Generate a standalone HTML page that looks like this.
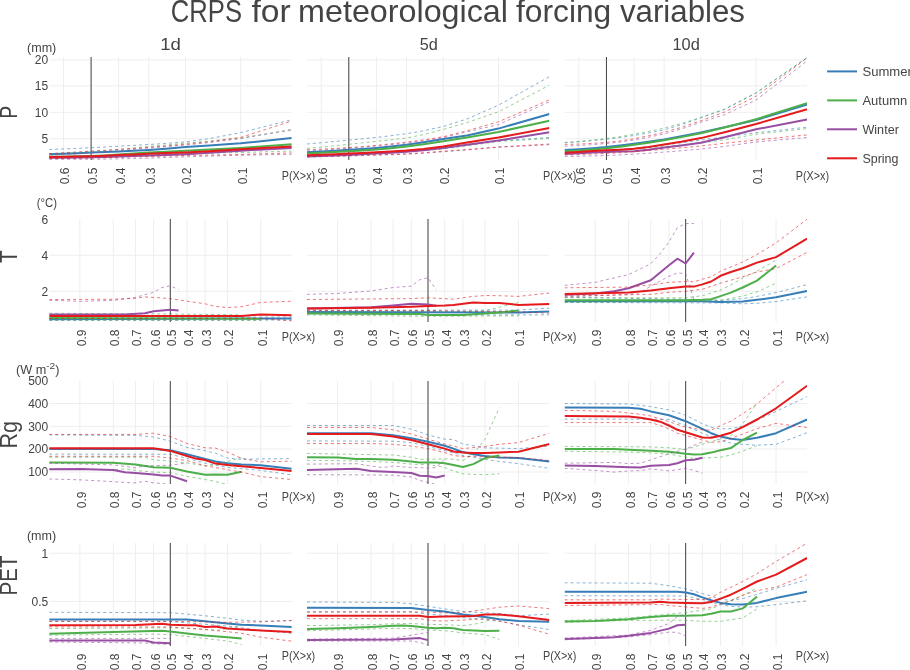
<!DOCTYPE html><html><head><meta charset="utf-8"><title>CRPS for meteorological forcing variables</title>
<style>html,body{margin:0;padding:0;background:#fff}svg{display:block;will-change:opacity}text{font-family:"Liberation Sans",sans-serif;fill:#444}</style></head><body>
<svg width="910" height="670" viewBox="0 0 910 670">
<defs>
<clipPath id="c00"><rect x="49.20" y="57.00" width="242.55" height="103.00"/></clipPath>
<clipPath id="c01"><rect x="306.90" y="57.00" width="242.55" height="103.00"/></clipPath>
<clipPath id="c02"><rect x="564.55" y="57.00" width="242.55" height="103.00"/></clipPath>
<clipPath id="c10"><rect x="49.20" y="219.00" width="242.55" height="103.00"/></clipPath>
<clipPath id="c11"><rect x="306.90" y="219.00" width="242.55" height="103.00"/></clipPath>
<clipPath id="c12"><rect x="564.55" y="219.00" width="242.55" height="103.00"/></clipPath>
<clipPath id="c20"><rect x="49.20" y="381.00" width="242.55" height="103.00"/></clipPath>
<clipPath id="c21"><rect x="306.90" y="381.00" width="242.55" height="103.00"/></clipPath>
<clipPath id="c22"><rect x="564.55" y="381.00" width="242.55" height="103.00"/></clipPath>
<clipPath id="c30"><rect x="49.20" y="543.00" width="242.55" height="103.00"/></clipPath>
<clipPath id="c31"><rect x="306.90" y="543.00" width="242.55" height="103.00"/></clipPath>
<clipPath id="c32"><rect x="564.55" y="543.00" width="242.55" height="103.00"/></clipPath>
</defs>
<g clip-path="url(#c00)">
<path d="M63.49,57.00V160.00M91.10,57.00V160.00M118.71,57.00V160.00M148.80,57.00V160.00M185.51,57.00V160.00M240.73,57.00V160.00M49.20,138.75H291.75M49.20,112.30H291.75M49.20,85.95H291.75M49.20,59.90H291.75" stroke="#eee" stroke-width="1" fill="none"/>
<path d="M91.10,57.00V160.00" stroke="#444" stroke-width="1" fill="none"/>
<path d="M49.20,149.50L63.49,148.95L77.43,148.34L91.10,147.70L104.77,146.98L118.71,146.20L133.26,145.40L148.80,144.50L165.92,143.44L185.51,141.90L209.23,138.65L240.73,132.60L291.75,119.80" stroke="#377eb8" stroke-opacity="0.6" stroke-width="1" stroke-dasharray="3,3" fill="none"/>
<path d="M49.20,154.20L63.49,153.68L77.43,153.15L91.10,152.60L104.77,152.05L118.71,151.48L133.26,150.82L148.80,150.00L165.92,148.73L185.51,147.10L209.23,145.51L240.73,143.30L291.75,137.90" stroke="#377eb8" stroke-width="2" fill="none" stroke-linejoin="round"/>
<path d="M49.20,153.90L63.49,153.29L77.43,152.55L91.10,151.70L104.77,150.66L118.71,149.40L133.26,147.98L148.80,146.50L165.92,144.97L185.51,143.20L209.23,141.08L240.73,137.90L291.75,130.00" stroke="#4daf4a" stroke-opacity="0.6" stroke-width="1" stroke-dasharray="3,3" fill="none"/>
<path d="M49.20,158.00L63.49,157.92L77.43,157.74L91.10,157.50L104.77,157.10L118.71,156.48L133.26,155.74L148.80,155.00L165.92,154.23L185.51,153.50L209.23,153.03L240.73,152.50L291.75,151.10" stroke="#4daf4a" stroke-opacity="0.6" stroke-width="1" stroke-dasharray="3,3" fill="none"/>
<path d="M49.20,156.80L63.49,156.66L77.43,156.37L91.10,156.00L104.77,155.43L118.71,154.58L133.26,153.58L148.80,152.60L165.92,151.70L185.51,150.70L209.23,149.54L240.73,147.90L291.75,144.30" stroke="#4daf4a" stroke-width="2" fill="none" stroke-linejoin="round"/>
<path d="M49.20,155.00L63.49,154.46L77.43,153.78L91.10,153.00L104.77,152.02L118.71,150.78L133.26,149.40L148.80,148.00L165.92,146.65L185.51,145.00L209.23,142.56L240.73,138.60L291.75,129.50" stroke="#984ea3" stroke-opacity="0.6" stroke-width="1" stroke-dasharray="3,3" fill="none"/>
<path d="M49.20,159.30L63.49,159.29L77.43,159.25L91.10,159.20L104.77,159.07L118.71,158.83L133.26,158.49L148.80,158.10L165.92,157.53L185.51,156.80L209.23,156.05L240.73,155.20L291.75,154.30" stroke="#984ea3" stroke-opacity="0.6" stroke-width="1" stroke-dasharray="3,3" fill="none"/>
<path d="M49.20,157.80L63.49,157.70L77.43,157.52L91.10,157.30L104.77,156.99L118.71,156.56L133.26,156.05L148.80,155.50L165.92,154.94L185.51,154.20L209.23,152.81L240.73,150.70L291.75,147.90" stroke="#984ea3" stroke-width="2" fill="none" stroke-linejoin="round"/>
<path d="M49.20,153.60L63.49,152.77L77.43,151.93L91.10,151.10L104.77,150.27L118.71,149.42L133.26,148.49L148.80,147.40L165.92,146.03L185.51,144.20L209.23,141.77L240.73,137.40L291.75,121.10" stroke="#e41a1c" stroke-opacity="0.6" stroke-width="1" stroke-dasharray="3,3" fill="none"/>
<path d="M49.20,158.60L63.49,158.44L77.43,158.24L91.10,158.00L104.77,157.69L118.71,157.29L133.26,156.84L148.80,156.40L165.92,155.96L185.51,155.50L209.23,155.08L240.73,154.50L291.75,152.90" stroke="#e41a1c" stroke-opacity="0.6" stroke-width="1" stroke-dasharray="3,3" fill="none"/>
<path d="M49.20,157.00L63.49,156.81L77.43,156.53L91.10,156.20L104.77,155.73L118.71,155.10L133.26,154.39L148.80,153.70L165.92,153.11L185.51,152.40L209.23,151.17L240.73,149.30L291.75,146.40" stroke="#e41a1c" stroke-width="2" fill="none" stroke-linejoin="round"/>
</g>
<g clip-path="url(#c01)">
<path d="M321.19,57.00V160.00M348.80,57.00V160.00M376.41,57.00V160.00M406.50,57.00V160.00M443.21,57.00V160.00M498.43,57.00V160.00M306.90,138.75H549.45M306.90,112.30H549.45M306.90,85.95H549.45M306.90,59.90H549.45" stroke="#eee" stroke-width="1" fill="none"/>
<path d="M348.80,57.00V160.00" stroke="#444" stroke-width="1" fill="none"/>
<path d="M306.90,144.00L321.19,142.74L335.13,141.44L348.80,140.10L362.47,138.75L376.41,137.35L390.96,135.74L406.50,133.70L423.62,130.81L443.21,126.50L466.93,119.00L498.43,105.20L549.45,76.60" stroke="#377eb8" stroke-opacity="0.6" stroke-width="1" stroke-dasharray="3,3" fill="none"/>
<path d="M306.90,155.50L321.19,155.05L335.13,154.55L348.80,154.00L362.47,153.39L376.41,152.69L390.96,151.90L406.50,151.00L423.62,149.97L443.21,148.50L466.93,145.33L498.43,140.90L549.45,137.50" stroke="#377eb8" stroke-opacity="0.6" stroke-width="1" stroke-dasharray="3,3" fill="none"/>
<path d="M306.90,152.20L321.19,151.44L335.13,150.64L348.80,149.80L362.47,148.93L376.41,147.90L390.96,146.56L406.50,144.80L423.62,142.18L443.21,138.90L466.93,135.50L498.43,128.60L549.45,114.00" stroke="#377eb8" stroke-width="2" fill="none" stroke-linejoin="round"/>
<path d="M306.90,148.40L321.19,147.06L335.13,145.69L348.80,144.30L362.47,142.84L376.41,141.30L390.96,139.84L406.50,138.00L423.62,134.57L443.21,129.50L466.93,122.60L498.43,111.80L549.45,85.20" stroke="#4daf4a" stroke-opacity="0.6" stroke-width="1" stroke-dasharray="3,3" fill="none"/>
<path d="M306.90,156.00L321.19,155.55L335.13,155.05L348.80,154.50L362.47,153.89L376.41,153.19L390.96,152.40L406.50,151.50L423.62,150.46L443.21,149.00L466.93,145.84L498.43,141.50L549.45,138.40" stroke="#4daf4a" stroke-opacity="0.6" stroke-width="1" stroke-dasharray="3,3" fill="none"/>
<path d="M306.90,153.60L321.19,152.85L335.13,152.08L348.80,151.30L362.47,150.52L376.41,149.60L390.96,148.26L406.50,146.50L423.62,144.18L443.21,141.20L466.93,137.50L498.43,132.00L549.45,120.70" stroke="#4daf4a" stroke-width="2" fill="none" stroke-linejoin="round"/>
<path d="M306.90,151.00L321.19,150.18L335.13,149.28L348.80,148.30L362.47,147.24L376.41,146.05L390.96,144.67L406.50,143.00L423.62,140.80L443.21,137.60L466.93,131.90L498.43,124.60L549.45,101.80" stroke="#984ea3" stroke-opacity="0.6" stroke-width="1" stroke-dasharray="3,3" fill="none"/>
<path d="M306.90,157.00L321.19,156.69L335.13,156.35L348.80,156.00L362.47,155.64L376.41,155.26L390.96,154.80L406.50,154.20L423.62,153.22L443.21,151.80L466.93,149.83L498.43,147.30L549.45,144.70" stroke="#984ea3" stroke-opacity="0.6" stroke-width="1" stroke-dasharray="3,3" fill="none"/>
<path d="M306.90,156.40L321.19,156.01L335.13,155.53L348.80,155.00L362.47,154.36L376.41,153.60L390.96,152.81L406.50,151.80L423.62,150.24L443.21,148.00L466.93,144.70L498.43,140.60L549.45,132.30" stroke="#984ea3" stroke-width="2" fill="none" stroke-linejoin="round"/>
<path d="M306.90,149.70L321.19,149.15L335.13,148.43L348.80,147.60L362.47,146.59L376.41,145.35L390.96,143.85L406.50,142.10L423.62,139.95L443.21,136.80L466.93,130.80L498.43,121.80L549.45,99.80" stroke="#e41a1c" stroke-opacity="0.6" stroke-width="1" stroke-dasharray="3,3" fill="none"/>
<path d="M306.90,156.70L321.19,156.29L335.13,155.89L348.80,155.50L362.47,155.13L376.41,154.78L390.96,154.37L406.50,153.80L423.62,152.72L443.21,151.20L466.93,149.60L498.43,146.90L549.45,144.00" stroke="#e41a1c" stroke-opacity="0.6" stroke-width="1" stroke-dasharray="3,3" fill="none"/>
<path d="M306.90,155.20L321.19,154.70L335.13,154.16L348.80,153.60L362.47,152.99L376.41,152.30L390.96,151.52L406.50,150.50L423.62,148.91L443.21,146.50L466.93,142.40L498.43,137.50L549.45,128.10" stroke="#e41a1c" stroke-width="2" fill="none" stroke-linejoin="round"/>
</g>
<g clip-path="url(#c02)">
<path d="M578.84,57.00V160.00M606.45,57.00V160.00M634.06,57.00V160.00M664.15,57.00V160.00M700.86,57.00V160.00M756.08,57.00V160.00M564.55,138.75H807.10M564.55,112.30H807.10M564.55,85.95H807.10M564.55,59.90H807.10" stroke="#eee" stroke-width="1" fill="none"/>
<path d="M606.45,57.00V160.00" stroke="#444" stroke-width="1" fill="none"/>
<path d="M564.55,142.80L578.84,141.85L592.78,140.63L606.45,139.20L620.12,137.54L634.06,135.51L648.61,132.99L664.15,129.80L681.27,124.76L700.86,117.80L724.58,109.50L756.08,93.00L807.10,57.70" stroke="#377eb8" stroke-opacity="0.6" stroke-width="1" stroke-dasharray="3,3" fill="none"/>
<path d="M564.55,153.00L578.84,152.28L592.78,151.44L606.45,150.50L620.12,149.42L634.06,148.16L648.61,146.69L664.15,145.00L681.27,142.83L700.86,140.10L724.58,136.80L756.08,132.70L807.10,127.20" stroke="#377eb8" stroke-opacity="0.6" stroke-width="1" stroke-dasharray="3,3" fill="none"/>
<path d="M564.55,150.00L578.84,149.26L592.78,148.26L606.45,147.10L620.12,145.61L634.06,143.80L648.61,141.80L664.15,139.40L681.27,136.31L700.86,132.40L724.58,127.30L756.08,120.10L807.10,104.50" stroke="#377eb8" stroke-width="2" fill="none" stroke-linejoin="round"/>
<path d="M564.55,142.40L578.84,141.39L592.78,140.05L606.45,138.50L620.12,136.63L634.06,134.29L648.61,131.47L664.15,128.10L681.27,123.55L700.86,117.40L724.58,109.10L756.08,92.80L807.10,57.50" stroke="#4daf4a" stroke-opacity="0.6" stroke-width="1" stroke-dasharray="3,3" fill="none"/>
<path d="M564.55,153.50L578.84,152.72L592.78,151.88L606.45,151.00L620.12,150.04L634.06,148.99L648.61,147.82L664.15,146.50L681.27,144.99L700.86,143.00L724.58,139.80L756.08,134.20L807.10,128.60" stroke="#4daf4a" stroke-opacity="0.6" stroke-width="1" stroke-dasharray="3,3" fill="none"/>
<path d="M564.55,151.20L578.84,150.50L592.78,149.49L606.45,148.30L620.12,146.73L634.06,144.80L648.61,142.69L664.15,140.20L681.27,137.14L700.86,133.20L724.58,127.50L756.08,119.30L807.10,103.10" stroke="#4daf4a" stroke-width="2" fill="none" stroke-linejoin="round"/>
<path d="M564.55,146.10L578.84,145.56L592.78,144.64L606.45,143.50L620.12,142.00L634.06,139.93L648.61,137.27L664.15,134.00L681.27,129.02L700.86,122.30L724.58,114.70L756.08,100.00L807.10,61.00" stroke="#984ea3" stroke-opacity="0.6" stroke-width="1" stroke-dasharray="3,3" fill="none"/>
<path d="M564.55,156.40L578.84,156.22L592.78,155.90L606.45,155.50L620.12,154.95L634.06,154.16L648.61,153.20L664.15,152.10L681.27,150.77L700.86,149.00L724.58,146.40L756.08,142.00L807.10,137.50" stroke="#984ea3" stroke-opacity="0.6" stroke-width="1" stroke-dasharray="3,3" fill="none"/>
<path d="M564.55,154.00L578.84,153.14L592.78,152.43L606.45,151.90L620.12,151.58L634.06,151.20L648.61,149.69L664.15,147.40L681.27,145.39L700.86,142.70L724.58,137.20L756.08,129.30L807.10,119.40" stroke="#984ea3" stroke-width="2" fill="none" stroke-linejoin="round"/>
<path d="M564.55,144.40L578.84,144.09L592.78,143.35L606.45,142.40L620.12,140.96L634.06,138.71L648.61,135.79L664.15,132.30L681.27,127.42L700.86,120.70L724.58,112.00L756.08,96.30L807.10,58.00" stroke="#e41a1c" stroke-opacity="0.6" stroke-width="1" stroke-dasharray="3,3" fill="none"/>
<path d="M564.55,155.00L578.84,154.58L592.78,154.03L606.45,153.40L620.12,152.61L634.06,151.62L648.61,150.46L664.15,149.20L681.27,147.80L700.86,146.00L724.58,143.20L756.08,140.00L807.10,134.90" stroke="#e41a1c" stroke-opacity="0.6" stroke-width="1" stroke-dasharray="3,3" fill="none"/>
<path d="M564.55,152.80L578.84,151.92L592.78,151.09L606.45,150.30L620.12,149.63L634.06,148.80L648.61,147.07L664.15,144.60L681.27,141.81L700.86,138.10L724.58,132.30L756.08,124.00L807.10,109.30" stroke="#e41a1c" stroke-width="2" fill="none" stroke-linejoin="round"/>
</g>
<g clip-path="url(#c10)">
<path d="M79.88,219.00V322.00M113.25,219.00V322.00M135.43,219.00V322.00M153.62,219.00V322.00M170.30,219.00V322.00M186.98,219.00V322.00M205.17,219.00V322.00M227.35,219.00V322.00M260.72,219.00V322.00M49.20,291.30H291.75M49.20,255.25H291.75" stroke="#eee" stroke-width="1" fill="none"/>
<path d="M170.30,219.00V322.00" stroke="#444" stroke-width="1" fill="none"/>
<path d="M49.20,317.50L291.75,317.00" stroke="#377eb8" stroke-opacity="0.6" stroke-width="1" stroke-dasharray="3,3" fill="none"/>
<path d="M49.20,320.40L291.75,320.00" stroke="#377eb8" stroke-opacity="0.6" stroke-width="1" stroke-dasharray="3,3" fill="none"/>
<path d="M49.20,319.20L260.72,318.40L291.75,318.40" stroke="#377eb8" stroke-width="2" fill="none" stroke-linejoin="round"/>
<path d="M49.20,313.20L170.30,314.00L241.68,314.90" stroke="#4daf4a" stroke-opacity="0.6" stroke-width="1" stroke-dasharray="3,3" fill="none"/>
<path d="M49.20,320.10L260.72,320.40" stroke="#4daf4a" stroke-opacity="0.6" stroke-width="1" stroke-dasharray="3,3" fill="none"/>
<path d="M49.20,318.00L260.72,318.70" stroke="#4daf4a" stroke-width="2" fill="none" stroke-linejoin="round"/>
<path d="M49.20,300.20L79.88,301.40L113.25,300.40L135.43,297.40L153.62,292.30L162.04,287.50L170.30,285.80L178.56,289.50" stroke="#984ea3" stroke-opacity="0.6" stroke-width="1" stroke-dasharray="3,3" fill="none"/>
<path d="M49.20,314.40L125.09,314.40L144.83,313.20L153.62,311.20L170.30,309.80L178.56,310.60" stroke="#984ea3" stroke-width="2" fill="none" stroke-linejoin="round"/>
<path d="M49.20,299.60L79.88,299.40L113.25,299.30L135.43,298.30L144.83,296.90L170.30,298.60L186.98,301.20L205.17,303.80L215.51,306.40L227.35,307.60L241.68,306.70L260.72,302.40L291.75,301.20" stroke="#e41a1c" stroke-opacity="0.6" stroke-width="1" stroke-dasharray="3,3" fill="none"/>
<path d="M49.20,318.50L260.72,318.50L291.75,320.90" stroke="#e41a1c" stroke-opacity="0.6" stroke-width="1" stroke-dasharray="3,3" fill="none"/>
<path d="M49.20,316.10L241.68,316.10L260.72,314.40L291.75,315.30" stroke="#e41a1c" stroke-width="2" fill="none" stroke-linejoin="round"/>
</g>
<g clip-path="url(#c11)">
<path d="M337.58,219.00V322.00M370.95,219.00V322.00M393.13,219.00V322.00M411.32,219.00V322.00M428.00,219.00V322.00M444.68,219.00V322.00M462.87,219.00V322.00M485.05,219.00V322.00M518.42,219.00V322.00M306.90,291.30H549.45M306.90,255.25H549.45" stroke="#eee" stroke-width="1" fill="none"/>
<path d="M428.00,219.00V322.00" stroke="#444" stroke-width="1" fill="none"/>
<path d="M306.90,310.20L518.42,310.10L549.45,308.10" stroke="#377eb8" stroke-opacity="0.6" stroke-width="1" stroke-dasharray="3,3" fill="none"/>
<path d="M306.90,313.50L428.00,314.90L549.45,314.90" stroke="#377eb8" stroke-opacity="0.6" stroke-width="1" stroke-dasharray="3,3" fill="none"/>
<path d="M306.90,312.00L518.42,312.40L549.45,311.50" stroke="#377eb8" stroke-width="2" fill="none" stroke-linejoin="round"/>
<path d="M306.90,311.50L462.87,311.50L485.05,310.60L499.38,307.20L518.42,302.60" stroke="#4daf4a" stroke-opacity="0.6" stroke-width="1" stroke-dasharray="3,3" fill="none"/>
<path d="M306.90,314.90L428.00,316.30L518.42,315.80" stroke="#4daf4a" stroke-opacity="0.6" stroke-width="1" stroke-dasharray="3,3" fill="none"/>
<path d="M306.90,313.60L419.74,314.00L428.00,314.90L462.87,314.90L485.05,313.60L499.38,312.40L518.42,310.60" stroke="#4daf4a" stroke-width="2" fill="none" stroke-linejoin="round"/>
<path d="M306.90,294.30L337.58,293.50L370.95,290.90L393.13,287.50L411.32,286.10L419.74,279.80L428.00,277.70L436.26,290.10" stroke="#984ea3" stroke-opacity="0.6" stroke-width="1" stroke-dasharray="3,3" fill="none"/>
<path d="M306.90,310.90L436.26,310.90" stroke="#984ea3" stroke-opacity="0.6" stroke-width="1" stroke-dasharray="3,3" fill="none"/>
<path d="M306.90,308.60L370.95,307.20L393.13,305.50L411.32,303.80L428.00,304.60L436.26,305.80" stroke="#984ea3" stroke-width="2" fill="none" stroke-linejoin="round"/>
<path d="M306.90,299.50L411.32,298.60L428.00,297.80L444.68,298.60L453.47,299.20L462.87,297.80L473.21,296.40L485.05,295.50L499.38,295.70L518.42,296.40L549.45,293.00" stroke="#e41a1c" stroke-opacity="0.6" stroke-width="1" stroke-dasharray="3,3" fill="none"/>
<path d="M306.90,310.60L428.00,310.60L518.42,312.00L549.45,313.20" stroke="#e41a1c" stroke-opacity="0.6" stroke-width="1" stroke-dasharray="3,3" fill="none"/>
<path d="M306.90,308.40L370.95,307.70L411.32,306.70L428.00,306.00L444.68,305.50L453.47,305.00L473.21,302.60L485.05,302.90L499.38,302.90L518.42,305.00L549.45,304.10" stroke="#e41a1c" stroke-width="2" fill="none" stroke-linejoin="round"/>
</g>
<g clip-path="url(#c12)">
<path d="M595.23,219.00V322.00M628.60,219.00V322.00M650.78,219.00V322.00M668.97,219.00V322.00M685.65,219.00V322.00M702.33,219.00V322.00M720.52,219.00V322.00M742.70,219.00V322.00M776.07,219.00V322.00M564.55,291.30H807.10M564.55,255.25H807.10" stroke="#eee" stroke-width="1" fill="none"/>
<path d="M685.65,219.00V322.00" stroke="#444" stroke-width="1" fill="none"/>
<path d="M564.55,297.30L702.33,299.50L720.52,300.30L742.70,298.60L757.03,296.40L776.07,292.60L807.10,284.60" stroke="#377eb8" stroke-opacity="0.6" stroke-width="1" stroke-dasharray="3,3" fill="none"/>
<path d="M564.55,302.50L720.52,302.90L742.70,303.80L757.03,303.30L776.07,301.50L807.10,296.90" stroke="#377eb8" stroke-opacity="0.6" stroke-width="1" stroke-dasharray="3,3" fill="none"/>
<path d="M564.55,301.20L702.33,301.20L720.52,302.10L742.70,301.50L757.03,299.80L776.07,297.30L807.10,290.90" stroke="#377eb8" stroke-width="2" fill="none" stroke-linejoin="round"/>
<path d="M564.55,297.80L685.65,297.80L702.33,295.70L720.52,290.10L730.86,284.90L742.70,278.00L757.03,271.20L776.07,260.00" stroke="#4daf4a" stroke-opacity="0.6" stroke-width="1" stroke-dasharray="3,3" fill="none"/>
<path d="M564.55,302.50L702.33,301.20L720.52,300.30L742.70,296.10L757.03,291.80L776.07,283.20" stroke="#4daf4a" stroke-opacity="0.6" stroke-width="1" stroke-dasharray="3,3" fill="none"/>
<path d="M564.55,300.30L685.65,300.30L702.33,299.80L711.12,299.20L720.52,296.10L730.86,292.60L742.70,287.50L757.03,280.60L776.07,265.50" stroke="#4daf4a" stroke-width="2" fill="none" stroke-linejoin="round"/>
<path d="M564.55,285.40L595.23,282.30L628.60,274.60L650.78,263.80L660.18,253.60L668.97,241.90L677.39,227.70L685.65,223.60L693.91,223.40" stroke="#984ea3" stroke-opacity="0.6" stroke-width="1" stroke-dasharray="3,3" fill="none"/>
<path d="M564.55,296.90L628.60,294.50L640.44,292.60L650.78,286.10L668.97,276.30L677.39,272.90L685.65,273.60L693.91,299.50" stroke="#984ea3" stroke-opacity="0.6" stroke-width="1" stroke-dasharray="3,3" fill="none"/>
<path d="M564.55,294.70L595.23,293.50L614.27,291.30L628.60,288.30L650.78,280.30L668.97,265.20L677.39,258.70L685.65,263.50L693.91,252.70" stroke="#984ea3" stroke-width="2" fill="none" stroke-linejoin="round"/>
<path d="M564.55,287.80L628.60,287.10L650.78,284.90L668.97,282.30L685.65,281.50L693.91,281.80L702.33,279.20L711.12,276.80L720.52,271.20L742.70,262.10L757.03,254.50L776.07,242.90L807.10,219.20" stroke="#e41a1c" stroke-opacity="0.6" stroke-width="1" stroke-dasharray="3,3" fill="none"/>
<path d="M564.55,296.00L650.78,294.30L668.97,292.30L685.65,291.30L702.33,289.20L720.52,283.20L742.70,276.80L757.03,272.00L776.07,268.60L807.10,252.30" stroke="#e41a1c" stroke-opacity="0.6" stroke-width="1" stroke-dasharray="3,3" fill="none"/>
<path d="M564.55,294.00L628.60,292.60L650.78,290.60L668.97,288.30L685.65,286.60L693.91,286.60L702.33,284.40L711.12,281.50L720.52,275.80L730.86,272.00L742.70,268.30L757.03,262.60L776.07,257.10L807.10,238.60" stroke="#e41a1c" stroke-width="2" fill="none" stroke-linejoin="round"/>
</g>
<g clip-path="url(#c20)">
<path d="M79.88,381.00V484.00M113.25,381.00V484.00M135.43,381.00V484.00M153.62,381.00V484.00M170.30,381.00V484.00M186.98,381.00V484.00M205.17,381.00V484.00M227.35,381.00V484.00M260.72,381.00V484.00M49.20,472.00H291.75M49.20,449.05H291.75M49.20,426.30H291.75M49.20,403.50H291.75" stroke="#eee" stroke-width="1" fill="none"/>
<path d="M170.30,381.00V484.00" stroke="#444" stroke-width="1" fill="none"/>
<path d="M49.20,434.90L135.43,435.40L153.62,437.00L170.30,441.20L186.98,447.40L205.17,450.70L215.51,453.30L227.35,458.10L241.68,459.30L260.72,458.90L291.75,458.60" stroke="#377eb8" stroke-opacity="0.6" stroke-width="1" stroke-dasharray="3,3" fill="none"/>
<path d="M49.20,454.10L170.30,454.30L186.98,458.40L205.17,463.20L227.35,467.50L241.68,468.70L260.72,470.40L291.75,474.90" stroke="#377eb8" stroke-opacity="0.6" stroke-width="1" stroke-dasharray="3,3" fill="none"/>
<path d="M49.20,449.00L153.62,449.00L170.30,450.30L186.98,454.30L205.17,458.90L215.51,461.50L227.35,463.20L241.68,464.40L260.72,465.30L291.75,468.70" stroke="#377eb8" stroke-width="2" fill="none" stroke-linejoin="round"/>
<path d="M49.20,457.20L144.83,457.20L153.62,459.80L170.30,461.10L186.98,462.90L205.17,465.80L215.51,464.90L227.35,461.50L241.68,457.70" stroke="#4daf4a" stroke-opacity="0.6" stroke-width="1" stroke-dasharray="3,3" fill="none"/>
<path d="M49.20,469.20L113.25,469.60L125.09,468.90L135.43,470.40L153.62,472.10L170.30,472.60L186.98,476.40L205.17,479.50L215.51,481.50L227.35,484.50" stroke="#4daf4a" stroke-opacity="0.6" stroke-width="1" stroke-dasharray="3,3" fill="none"/>
<path d="M49.20,462.40L113.25,462.70L135.43,464.60L153.62,467.20L170.30,467.80L186.98,471.40L205.17,474.70L215.51,474.40L227.35,474.70L241.68,471.80" stroke="#4daf4a" stroke-width="2" fill="none" stroke-linejoin="round"/>
<path d="M49.20,463.20L113.25,464.90L135.43,467.80L144.83,465.80L170.30,465.30L186.98,462.90" stroke="#984ea3" stroke-opacity="0.6" stroke-width="1" stroke-dasharray="3,3" fill="none"/>
<path d="M49.20,479.00L79.88,479.80L113.25,481.70L135.43,482.90L144.83,481.20L153.62,482.90L162.04,483.50L170.30,484.50" stroke="#984ea3" stroke-opacity="0.6" stroke-width="1" stroke-dasharray="3,3" fill="none"/>
<path d="M49.20,469.20L79.88,468.90L113.25,470.10L125.09,472.30L135.43,473.00L153.62,474.40L162.04,475.60L170.30,475.60L186.98,481.20" stroke="#984ea3" stroke-width="2" fill="none" stroke-linejoin="round"/>
<path d="M49.20,434.40L135.43,434.40L153.62,433.20L170.30,436.60L186.98,443.50L205.17,447.80L215.51,448.10L227.35,452.10L241.68,458.40L260.72,461.80L291.75,461.20" stroke="#e41a1c" stroke-opacity="0.6" stroke-width="1" stroke-dasharray="3,3" fill="none"/>
<path d="M49.20,456.30L153.62,456.30L170.30,458.10L186.98,460.60L205.17,465.80L227.35,469.70L241.68,472.10L260.72,476.60L291.75,479.50" stroke="#e41a1c" stroke-opacity="0.6" stroke-width="1" stroke-dasharray="3,3" fill="none"/>
<path d="M49.20,448.30L153.62,448.30L170.30,450.90L186.98,456.00L195.77,458.60L205.17,460.10L215.51,463.60L227.35,464.90L241.68,466.30L260.72,468.00L291.75,470.90" stroke="#e41a1c" stroke-width="2" fill="none" stroke-linejoin="round"/>
</g>
<g clip-path="url(#c21)">
<path d="M337.58,381.00V484.00M370.95,381.00V484.00M393.13,381.00V484.00M411.32,381.00V484.00M428.00,381.00V484.00M444.68,381.00V484.00M462.87,381.00V484.00M485.05,381.00V484.00M518.42,381.00V484.00M306.90,472.00H549.45M306.90,449.05H549.45M306.90,426.30H549.45M306.90,403.50H549.45" stroke="#eee" stroke-width="1" fill="none"/>
<path d="M428.00,381.00V484.00" stroke="#444" stroke-width="1" fill="none"/>
<path d="M306.90,425.50L393.13,425.50L411.32,429.20L428.00,434.90L444.68,439.20L453.47,439.50L462.87,444.00L473.21,445.70L485.05,447.80L518.42,448.60L549.45,446.10" stroke="#377eb8" stroke-opacity="0.6" stroke-width="1" stroke-dasharray="3,3" fill="none"/>
<path d="M306.90,440.90L393.13,441.20L411.32,442.60L428.00,446.50L444.68,450.50L462.87,455.50L473.21,457.20L485.05,459.40L499.38,461.50L518.42,463.60L549.45,468.40" stroke="#377eb8" stroke-opacity="0.6" stroke-width="1" stroke-dasharray="3,3" fill="none"/>
<path d="M306.90,433.20L370.95,433.20L393.13,435.20L411.32,438.30L428.00,441.80L444.68,445.70L453.47,448.60L462.87,452.10L473.21,454.30L485.05,456.00L499.38,457.50L518.42,458.10L549.45,461.50" stroke="#377eb8" stroke-width="2" fill="none" stroke-linejoin="round"/>
<path d="M306.90,453.30L337.58,454.10L370.95,454.60L393.13,455.00L411.32,457.20L419.74,459.30L428.00,459.30L444.68,458.90L453.47,459.30L462.87,460.60L473.21,453.80L485.05,439.20L499.38,407.50" stroke="#4daf4a" stroke-opacity="0.6" stroke-width="1" stroke-dasharray="3,3" fill="none"/>
<path d="M306.90,460.30L337.58,460.60L370.95,461.50L393.13,462.40L411.32,464.10L428.00,464.90L436.26,465.80L444.68,467.50L453.47,470.90L462.87,473.80L473.21,474.40L485.05,474.70L499.38,473.80" stroke="#4daf4a" stroke-opacity="0.6" stroke-width="1" stroke-dasharray="3,3" fill="none"/>
<path d="M306.90,457.20L337.58,457.50L356.62,458.90L370.95,458.90L393.13,459.80L411.32,461.50L419.74,462.40L428.00,462.40L436.26,462.40L444.68,463.20L453.47,464.90L462.87,467.00L473.21,464.10L485.05,458.10L499.38,455.50" stroke="#4daf4a" stroke-width="2" fill="none" stroke-linejoin="round"/>
<path d="M306.90,464.10L356.62,463.70L370.95,466.10L382.79,467.50L393.13,466.10L411.32,467.50L428.00,468.00L436.26,467.50L444.68,458.90" stroke="#984ea3" stroke-opacity="0.6" stroke-width="1" stroke-dasharray="3,3" fill="none"/>
<path d="M306.90,474.70L370.95,474.90L393.13,475.20L411.32,476.90L419.74,480.40L428.00,482.40L436.26,484.50" stroke="#984ea3" stroke-opacity="0.6" stroke-width="1" stroke-dasharray="3,3" fill="none"/>
<path d="M306.90,470.10L356.62,468.70L370.95,470.90L393.13,472.10L411.32,473.00L419.74,475.70L428.00,476.10L436.26,477.40L444.68,475.60" stroke="#984ea3" stroke-width="2" fill="none" stroke-linejoin="round"/>
<path d="M306.90,427.50L370.95,427.50L393.13,429.80L411.32,434.00L428.00,439.20L444.68,444.00L453.47,446.10L462.87,448.60L485.05,446.40L499.38,444.30L518.42,442.60L549.45,433.20" stroke="#e41a1c" stroke-opacity="0.6" stroke-width="1" stroke-dasharray="3,3" fill="none"/>
<path d="M306.90,443.50L370.95,443.50L393.13,444.30L411.32,446.10L428.00,448.60L444.68,452.60L453.47,455.50L462.87,456.70L473.21,456.30L485.05,456.90L499.38,457.20L518.42,457.50L549.45,460.60" stroke="#e41a1c" stroke-opacity="0.6" stroke-width="1" stroke-dasharray="3,3" fill="none"/>
<path d="M306.90,434.00L370.95,434.00L393.13,436.60L411.32,440.00L428.00,444.30L444.68,448.60L453.47,451.50L462.87,452.60L473.21,452.90L485.05,452.90L499.38,452.40L518.42,451.70L549.45,444.00" stroke="#e41a1c" stroke-width="2" fill="none" stroke-linejoin="round"/>
</g>
<g clip-path="url(#c22)">
<path d="M595.23,381.00V484.00M628.60,381.00V484.00M650.78,381.00V484.00M668.97,381.00V484.00M685.65,381.00V484.00M702.33,381.00V484.00M720.52,381.00V484.00M742.70,381.00V484.00M776.07,381.00V484.00M564.55,472.00H807.10M564.55,449.05H807.10M564.55,426.30H807.10M564.55,403.50H807.10" stroke="#eee" stroke-width="1" fill="none"/>
<path d="M685.65,381.00V484.00" stroke="#444" stroke-width="1" fill="none"/>
<path d="M564.55,403.50L628.60,404.00L640.44,405.40L650.78,406.60L668.97,410.00L685.65,415.20L702.33,423.80L711.12,427.20L720.52,428.90L730.86,428.60L742.70,426.30L757.03,420.30L776.07,411.40L807.10,396.60" stroke="#377eb8" stroke-opacity="0.6" stroke-width="1" stroke-dasharray="3,3" fill="none"/>
<path d="M564.55,419.10L650.78,419.10L668.97,419.50L685.65,425.50L702.33,433.20L711.12,436.60L720.52,440.60L730.86,443.00L742.70,444.30L757.03,445.20L776.07,444.30L807.10,432.70" stroke="#377eb8" stroke-opacity="0.6" stroke-width="1" stroke-dasharray="3,3" fill="none"/>
<path d="M564.55,407.50L628.60,407.80L640.44,408.80L650.78,411.40L668.97,415.20L685.65,421.20L702.33,428.90L711.12,433.20L720.52,436.60L730.86,438.80L742.70,440.00L757.03,437.80L776.07,433.20L807.10,419.50" stroke="#377eb8" stroke-width="2" fill="none" stroke-linejoin="round"/>
<path d="M564.55,446.40L650.78,446.90L668.97,447.80L685.65,449.50L702.33,444.30L711.12,441.80L720.52,438.80L730.86,435.80L742.70,423.80L757.03,403.20" stroke="#4daf4a" stroke-opacity="0.6" stroke-width="1" stroke-dasharray="3,3" fill="none"/>
<path d="M564.55,451.20L628.60,452.10L650.78,452.90L668.97,454.10L685.65,457.20L693.91,458.60L702.33,458.10L720.52,457.20L730.86,455.00L742.70,451.20L757.03,445.70" stroke="#4daf4a" stroke-opacity="0.6" stroke-width="1" stroke-dasharray="3,3" fill="none"/>
<path d="M564.55,449.00L614.27,449.00L628.60,449.80L650.78,450.70L668.97,451.70L685.65,453.80L693.91,454.60L702.33,454.30L711.12,452.60L720.52,450.30L730.86,448.10L742.70,440.00L757.03,432.70" stroke="#4daf4a" stroke-width="2" fill="none" stroke-linejoin="round"/>
<path d="M564.55,463.20L614.27,462.40L628.60,463.60L640.44,463.20L650.78,459.80L668.97,453.80L685.65,449.00L702.33,441.80" stroke="#984ea3" stroke-opacity="0.6" stroke-width="1" stroke-dasharray="3,3" fill="none"/>
<path d="M564.55,468.40L595.23,470.40L614.27,472.10L628.60,470.90L640.44,470.60L650.78,468.90L668.97,470.90L685.65,468.40L693.91,470.40L702.33,473.20" stroke="#984ea3" stroke-opacity="0.6" stroke-width="1" stroke-dasharray="3,3" fill="none"/>
<path d="M564.55,465.40L595.23,466.10L628.60,467.20L640.44,467.50L650.78,465.80L668.97,464.90L677.39,463.20L685.65,460.30L693.91,459.80L702.33,457.70" stroke="#984ea3" stroke-width="2" fill="none" stroke-linejoin="round"/>
<path d="M564.55,410.40L595.23,410.90L614.27,411.40L628.60,413.10L640.44,414.30L650.78,416.00L668.97,421.70L685.65,427.20L702.33,429.80L711.12,430.30L720.52,425.50L730.86,421.20L742.70,413.80L757.03,404.00L776.07,387.70L807.10,362.00" stroke="#e41a1c" stroke-opacity="0.6" stroke-width="1" stroke-dasharray="3,3" fill="none"/>
<path d="M564.55,422.60L650.78,422.60L660.18,425.50L668.97,428.90L677.39,433.20L685.65,435.40L702.33,440.00L711.12,442.30L720.52,441.80L730.86,438.30L742.70,434.00L757.03,428.60L776.07,423.40L807.10,427.50" stroke="#e41a1c" stroke-opacity="0.6" stroke-width="1" stroke-dasharray="3,3" fill="none"/>
<path d="M564.55,416.00L628.60,416.50L640.44,417.70L650.78,419.50L660.18,421.70L668.97,425.50L677.39,429.80L685.65,432.30L702.33,437.50L711.12,437.80L720.52,435.80L730.86,432.70L742.70,427.20L757.03,419.50L776.07,408.30L807.10,385.70" stroke="#e41a1c" stroke-width="2" fill="none" stroke-linejoin="round"/>
</g>
<g clip-path="url(#c30)">
<path d="M79.88,543.00V646.00M113.25,543.00V646.00M135.43,543.00V646.00M153.62,543.00V646.00M170.30,543.00V646.00M186.98,543.00V646.00M205.17,543.00V646.00M227.35,543.00V646.00M260.72,543.00V646.00M49.20,601.40H291.75M49.20,553.20H291.75" stroke="#eee" stroke-width="1" fill="none"/>
<path d="M170.30,543.00V646.00" stroke="#444" stroke-width="1" fill="none"/>
<path d="M49.20,612.30L170.30,612.70L186.98,614.10L205.17,615.80L227.35,618.30L241.68,620.10L260.72,621.30L291.75,620.40" stroke="#377eb8" stroke-opacity="0.6" stroke-width="1" stroke-dasharray="3,3" fill="none"/>
<path d="M49.20,621.50L170.30,621.50L205.17,624.30L227.35,626.10L241.68,627.80L260.72,630.40L291.75,633.30" stroke="#377eb8" stroke-opacity="0.6" stroke-width="1" stroke-dasharray="3,3" fill="none"/>
<path d="M49.20,619.50L186.98,619.50L205.17,621.30L227.35,623.50L241.68,624.70L260.72,625.50L291.75,626.90" stroke="#377eb8" stroke-width="2" fill="none" stroke-linejoin="round"/>
<path d="M49.20,628.60L170.30,627.80L186.98,628.30L205.17,629.50L215.51,630.40L227.35,628.60L241.68,625.50" stroke="#4daf4a" stroke-opacity="0.6" stroke-width="1" stroke-dasharray="3,3" fill="none"/>
<path d="M49.20,635.20L153.62,634.10L170.30,634.60L186.98,636.40L205.17,638.40L227.35,641.00L241.68,644.60" stroke="#4daf4a" stroke-opacity="0.6" stroke-width="1" stroke-dasharray="3,3" fill="none"/>
<path d="M49.20,633.80L113.25,632.10L162.04,630.70L170.30,631.60L186.98,633.40L205.17,635.50L227.35,637.20L241.68,638.60" stroke="#4daf4a" stroke-width="2" fill="none" stroke-linejoin="round"/>
<path d="M49.20,638.40L162.04,638.40L170.30,638.40" stroke="#984ea3" stroke-opacity="0.6" stroke-width="1" stroke-dasharray="3,3" fill="none"/>
<path d="M49.20,642.00L144.83,643.00L153.62,643.70L170.30,644.50" stroke="#984ea3" stroke-opacity="0.6" stroke-width="1" stroke-dasharray="3,3" fill="none"/>
<path d="M49.20,640.60L144.83,640.60L153.62,642.40L170.30,643.20" stroke="#984ea3" stroke-width="2" fill="none" stroke-linejoin="round"/>
<path d="M49.20,621.30L170.30,621.30L205.17,621.80L227.35,622.30L260.72,621.80L291.75,620.60" stroke="#e41a1c" stroke-opacity="0.6" stroke-width="1" stroke-dasharray="3,3" fill="none"/>
<path d="M49.20,626.90L170.30,626.90L186.98,628.10L205.17,629.50L227.35,631.70L241.68,633.30L260.72,637.20L291.75,641.20" stroke="#e41a1c" stroke-opacity="0.6" stroke-width="1" stroke-dasharray="3,3" fill="none"/>
<path d="M49.20,625.20L135.43,624.90L162.04,623.80L170.30,624.70L186.98,625.20L195.77,625.20L205.17,626.90L215.51,626.60L227.35,628.60L260.72,630.40L291.75,632.10" stroke="#e41a1c" stroke-width="2" fill="none" stroke-linejoin="round"/>
</g>
<g clip-path="url(#c31)">
<path d="M337.58,543.00V646.00M370.95,543.00V646.00M393.13,543.00V646.00M411.32,543.00V646.00M428.00,543.00V646.00M444.68,543.00V646.00M462.87,543.00V646.00M485.05,543.00V646.00M518.42,543.00V646.00M306.90,601.40H549.45M306.90,553.20H549.45" stroke="#eee" stroke-width="1" fill="none"/>
<path d="M428.00,543.00V646.00" stroke="#444" stroke-width="1" fill="none"/>
<path d="M306.90,602.00L393.13,602.40L411.32,603.80L428.00,606.30L444.68,608.90L462.87,611.50L485.05,612.90L499.38,613.50L518.42,615.80L549.45,614.10" stroke="#377eb8" stroke-opacity="0.6" stroke-width="1" stroke-dasharray="3,3" fill="none"/>
<path d="M306.90,611.80L411.32,611.80L428.00,614.10L444.68,615.30L462.87,617.50L485.05,619.50L499.38,621.30L518.42,624.90L549.45,629.50" stroke="#377eb8" stroke-opacity="0.6" stroke-width="1" stroke-dasharray="3,3" fill="none"/>
<path d="M306.90,607.70L411.32,608.10L428.00,610.10L444.68,611.50L462.87,614.60L485.05,617.00L499.38,619.20L518.42,620.90L549.45,621.80" stroke="#377eb8" stroke-width="2" fill="none" stroke-linejoin="round"/>
<path d="M306.90,625.60L370.95,624.70L393.13,623.80L411.32,623.50L428.00,624.40L444.68,624.70L462.87,625.60L473.21,624.40L485.05,621.80L499.38,615.30" stroke="#4daf4a" stroke-opacity="0.6" stroke-width="1" stroke-dasharray="3,3" fill="none"/>
<path d="M306.90,630.70L370.95,629.00L393.13,628.30L411.32,628.60L428.00,630.00L444.68,630.70L462.87,632.90L485.05,634.60L499.38,639.40" stroke="#4daf4a" stroke-opacity="0.6" stroke-width="1" stroke-dasharray="3,3" fill="none"/>
<path d="M306.90,629.00L337.58,628.30L370.95,626.90L393.13,625.70L402.53,625.60L411.32,626.10L428.00,627.80L436.26,628.30L444.68,627.80L453.47,628.30L462.87,630.00L485.05,630.90L499.38,630.70" stroke="#4daf4a" stroke-width="2" fill="none" stroke-linejoin="round"/>
<path d="M306.90,639.20L393.13,638.10L411.32,635.20L428.00,632.40" stroke="#984ea3" stroke-opacity="0.6" stroke-width="1" stroke-dasharray="3,3" fill="none"/>
<path d="M306.90,641.00L411.32,641.00L419.74,642.40L428.00,644.90" stroke="#984ea3" stroke-opacity="0.6" stroke-width="1" stroke-dasharray="3,3" fill="none"/>
<path d="M306.90,640.10L393.13,639.40L411.32,638.40L419.74,638.10L428.00,640.10" stroke="#984ea3" stroke-width="2" fill="none" stroke-linejoin="round"/>
<path d="M306.90,612.00L428.00,612.00L444.68,612.90L462.87,612.30L473.21,611.10L485.05,609.40L499.38,607.20L518.42,606.00L549.45,608.60" stroke="#e41a1c" stroke-opacity="0.6" stroke-width="1" stroke-dasharray="3,3" fill="none"/>
<path d="M306.90,618.70L419.74,618.70L428.00,620.10L436.26,620.90L444.68,620.90L462.87,620.10L485.05,618.70L499.38,620.90L518.42,625.20L549.45,634.30" stroke="#e41a1c" stroke-opacity="0.6" stroke-width="1" stroke-dasharray="3,3" fill="none"/>
<path d="M306.90,615.80L419.74,615.80L428.00,617.00L444.68,616.60L462.87,616.30L473.21,616.10L485.05,614.60L499.38,614.40L518.42,616.30L549.45,620.10" stroke="#e41a1c" stroke-width="2" fill="none" stroke-linejoin="round"/>
</g>
<g clip-path="url(#c32)">
<path d="M595.23,543.00V646.00M628.60,543.00V646.00M650.78,543.00V646.00M668.97,543.00V646.00M685.65,543.00V646.00M702.33,543.00V646.00M720.52,543.00V646.00M742.70,543.00V646.00M776.07,543.00V646.00M564.55,601.40H807.10M564.55,553.20H807.10" stroke="#eee" stroke-width="1" fill="none"/>
<path d="M685.65,543.00V646.00" stroke="#444" stroke-width="1" fill="none"/>
<path d="M564.55,582.80L650.78,583.20L668.97,585.80L685.65,588.80L702.33,593.50L711.12,596.00L720.52,599.50L730.86,600.30L742.70,598.60L757.03,594.30L776.07,588.30L807.10,579.70" stroke="#377eb8" stroke-opacity="0.6" stroke-width="1" stroke-dasharray="3,3" fill="none"/>
<path d="M564.55,595.70L685.65,596.00L702.33,599.50L711.12,602.00L720.52,604.60L730.86,606.30L742.70,607.20L757.03,606.70L776.07,604.60L807.10,600.80" stroke="#377eb8" stroke-opacity="0.6" stroke-width="1" stroke-dasharray="3,3" fill="none"/>
<path d="M564.55,591.80L677.39,591.80L685.65,592.60L693.91,594.30L702.33,597.40L711.12,600.30L720.52,602.90L730.86,604.30L742.70,604.60L757.03,602.90L776.07,598.10L807.10,591.80" stroke="#377eb8" stroke-width="2" fill="none" stroke-linejoin="round"/>
<path d="M564.55,620.60L628.60,618.00L650.78,615.80L668.97,614.10L677.39,613.20L685.65,612.70L702.33,610.10L711.12,608.90L720.52,604.60L730.86,600.80L742.70,595.20L757.03,588.30" stroke="#4daf4a" stroke-opacity="0.6" stroke-width="1" stroke-dasharray="3,3" fill="none"/>
<path d="M564.55,622.30L628.60,620.40L650.78,620.40L668.97,620.10L685.65,620.40L702.33,621.30L720.52,621.30L730.86,619.70L742.70,618.00L757.03,608.90" stroke="#4daf4a" stroke-opacity="0.6" stroke-width="1" stroke-dasharray="3,3" fill="none"/>
<path d="M564.55,621.40L595.23,620.90L628.60,619.20L650.78,617.00L668.97,615.80L685.65,615.80L702.33,615.30L711.12,613.70L720.52,611.50L730.86,611.50L742.70,608.40L757.03,596.40" stroke="#4daf4a" stroke-width="2" fill="none" stroke-linejoin="round"/>
<path d="M564.55,638.10L628.60,635.00L650.78,630.40L668.97,623.50L677.39,616.60L685.65,614.10" stroke="#984ea3" stroke-opacity="0.6" stroke-width="1" stroke-dasharray="3,3" fill="none"/>
<path d="M564.55,639.80L628.60,636.90L650.78,634.60L668.97,632.10L677.39,632.40L685.65,635.80" stroke="#984ea3" stroke-opacity="0.6" stroke-width="1" stroke-dasharray="3,3" fill="none"/>
<path d="M564.55,638.90L595.23,638.10L614.27,637.20L628.60,635.80L650.78,632.90L668.97,628.60L677.39,625.20L685.65,624.70" stroke="#984ea3" stroke-width="2" fill="none" stroke-linejoin="round"/>
<path d="M564.55,599.80L650.78,599.80L660.18,599.10L685.65,599.50L702.33,599.50L711.12,597.80L720.52,592.30L742.70,581.50L757.03,573.70L776.07,561.40L807.10,543.20" stroke="#e41a1c" stroke-opacity="0.6" stroke-width="1" stroke-dasharray="3,3" fill="none"/>
<path d="M564.55,605.50L650.78,604.60L660.18,604.30L668.97,605.50L685.65,606.90L702.33,608.40L711.12,607.20L720.52,603.80L730.86,600.80L742.70,595.20L757.03,590.60L776.07,587.10L807.10,574.60" stroke="#e41a1c" stroke-opacity="0.6" stroke-width="1" stroke-dasharray="3,3" fill="none"/>
<path d="M564.55,602.90L650.78,602.60L660.18,601.70L668.97,602.40L685.65,602.90L702.33,603.30L711.12,602.00L720.52,598.60L730.86,594.70L742.70,588.80L757.03,581.50L776.07,574.60L807.10,558.00" stroke="#e41a1c" stroke-width="2" fill="none" stroke-linejoin="round"/>
</g>
<path d="M827.1,71.40H857" stroke="#377eb8" stroke-width="2" fill="none"/>
<path d="M827.1,100.40H857" stroke="#4daf4a" stroke-width="2" fill="none"/>
<path d="M827.1,129.30H857" stroke="#984ea3" stroke-width="2" fill="none"/>
<path d="M827.1,158.30H857" stroke="#e41a1c" stroke-width="2" fill="none"/>
<text transform="translate(170.87,21.50) scale(0.8265,1)" font-size="31">CRPS</text>
<text transform="translate(251.40,21.50) scale(1.0850,1)" font-size="31">for</text>
<text transform="translate(298.12,21.50) scale(1.0414,1)" font-size="31">meteorological</text>
<text transform="translate(516.00,21.50) scale(1.0239,1)" font-size="31">forcing</text>
<text transform="translate(619.90,21.50) scale(1.0084,1)" font-size="31">variables</text>
<text transform="translate(160.14,49.50) scale(1.1636,1)" font-size="16">1d</text>
<text transform="translate(419.80,49.50) scale(1.0178,1)" font-size="16">5d</text>
<text transform="translate(672.48,49.50) scale(1.0243,1)" font-size="16">10d</text>
<text transform="translate(862.40,75.60) scale(1.0917,1)" font-size="12">Summer</text>
<text transform="translate(862.40,104.70) scale(1.0840,1)" font-size="12">Autumn</text>
<text transform="translate(862.40,133.50) scale(1.0527,1)" font-size="12">Winter</text>
<text transform="translate(862.40,162.50) scale(1.0408,1)" font-size="12">Spring</text>
<text transform="translate(27.00,52.30) scale(1.0469,1)" font-size="12">(mm)</text>
<text transform="translate(36.70,206.70) scale(0.9459,1)" font-size="12">(°C)</text>
<text transform="translate(26.90,539.60) scale(1.0469,1)" font-size="12">(mm)</text>
<text transform="translate(16.80,118.43) rotate(-90) scale(0.7643,1)" font-size="24.8">P</text>
<text transform="translate(16.80,263.00) rotate(-90) scale(0.8333,1)" font-size="24.8">T</text>
<text transform="translate(16.80,448.44) rotate(-90) scale(0.8683,1)" font-size="24.8">Rg</text>
<text transform="translate(16.80,595.46) rotate(-90) scale(0.8312,1)" font-size="24.8">PET</text>
<text x="41.50" y="143.05" font-size="12">5</text>
<text x="34.83" y="116.60" font-size="12">10</text>
<text x="34.83" y="90.25" font-size="12">15</text>
<text x="34.83" y="64.20" font-size="12">20</text>
<text x="41.50" y="295.60" font-size="12">2</text>
<text x="41.50" y="259.55" font-size="12">4</text>
<text x="41.50" y="223.90" font-size="12">6</text>
<text x="28.15" y="476.30" font-size="12">100</text>
<text x="28.15" y="453.35" font-size="12">200</text>
<text x="28.15" y="430.60" font-size="12">300</text>
<text x="28.15" y="407.80" font-size="12">400</text>
<text x="28.15" y="384.90" font-size="12">500</text>
<text x="31.49" y="605.70" font-size="12">0.5</text>
<text x="41.50" y="557.50" font-size="12">1</text>
<text transform="translate(69.39,184.21) rotate(-90)" font-size="12">0.6</text>
<text transform="translate(97.00,184.21) rotate(-90)" font-size="12">0.5</text>
<text transform="translate(124.61,184.21) rotate(-90)" font-size="12">0.4</text>
<text transform="translate(154.70,184.21) rotate(-90)" font-size="12">0.3</text>
<text transform="translate(191.41,184.21) rotate(-90)" font-size="12">0.2</text>
<text transform="translate(246.63,184.21) rotate(-90)" font-size="12">0.1</text>
<text transform="translate(281.80,179.80) scale(0.9024,1)" font-size="12">P(X&gt;x)</text>
<text transform="translate(327.09,184.21) rotate(-90)" font-size="12">0.6</text>
<text transform="translate(354.70,184.21) rotate(-90)" font-size="12">0.5</text>
<text transform="translate(382.31,184.21) rotate(-90)" font-size="12">0.4</text>
<text transform="translate(412.40,184.21) rotate(-90)" font-size="12">0.3</text>
<text transform="translate(449.11,184.21) rotate(-90)" font-size="12">0.2</text>
<text transform="translate(504.33,184.21) rotate(-90)" font-size="12">0.1</text>
<text transform="translate(543.00,179.80) scale(0.9024,1)" font-size="12">P(X&gt;x)</text>
<text transform="translate(584.74,184.21) rotate(-90)" font-size="12">0.6</text>
<text transform="translate(612.35,184.21) rotate(-90)" font-size="12">0.5</text>
<text transform="translate(639.96,184.21) rotate(-90)" font-size="12">0.4</text>
<text transform="translate(670.05,184.21) rotate(-90)" font-size="12">0.3</text>
<text transform="translate(706.76,184.21) rotate(-90)" font-size="12">0.2</text>
<text transform="translate(761.98,184.21) rotate(-90)" font-size="12">0.1</text>
<text transform="translate(795.70,179.80) scale(0.9024,1)" font-size="12">P(X&gt;x)</text>
<text transform="translate(85.78,346.21) rotate(-90)" font-size="12">0.9</text>
<text transform="translate(119.15,346.21) rotate(-90)" font-size="12">0.8</text>
<text transform="translate(141.33,346.21) rotate(-90)" font-size="12">0.7</text>
<text transform="translate(159.52,346.21) rotate(-90)" font-size="12">0.6</text>
<text transform="translate(176.20,346.21) rotate(-90)" font-size="12">0.5</text>
<text transform="translate(192.88,346.21) rotate(-90)" font-size="12">0.4</text>
<text transform="translate(211.07,346.21) rotate(-90)" font-size="12">0.3</text>
<text transform="translate(233.25,346.21) rotate(-90)" font-size="12">0.2</text>
<text transform="translate(266.62,346.21) rotate(-90)" font-size="12">0.1</text>
<text transform="translate(281.80,340.70) scale(0.9024,1)" font-size="12">P(X&gt;x)</text>
<text transform="translate(343.48,346.21) rotate(-90)" font-size="12">0.9</text>
<text transform="translate(376.85,346.21) rotate(-90)" font-size="12">0.8</text>
<text transform="translate(399.03,346.21) rotate(-90)" font-size="12">0.7</text>
<text transform="translate(417.22,346.21) rotate(-90)" font-size="12">0.6</text>
<text transform="translate(433.90,346.21) rotate(-90)" font-size="12">0.5</text>
<text transform="translate(450.58,346.21) rotate(-90)" font-size="12">0.4</text>
<text transform="translate(468.77,346.21) rotate(-90)" font-size="12">0.3</text>
<text transform="translate(490.95,346.21) rotate(-90)" font-size="12">0.2</text>
<text transform="translate(524.32,346.21) rotate(-90)" font-size="12">0.1</text>
<text transform="translate(543.00,340.70) scale(0.9024,1)" font-size="12">P(X&gt;x)</text>
<text transform="translate(601.13,346.21) rotate(-90)" font-size="12">0.9</text>
<text transform="translate(634.50,346.21) rotate(-90)" font-size="12">0.8</text>
<text transform="translate(656.68,346.21) rotate(-90)" font-size="12">0.7</text>
<text transform="translate(674.87,346.21) rotate(-90)" font-size="12">0.6</text>
<text transform="translate(691.55,346.21) rotate(-90)" font-size="12">0.5</text>
<text transform="translate(708.23,346.21) rotate(-90)" font-size="12">0.4</text>
<text transform="translate(726.42,346.21) rotate(-90)" font-size="12">0.3</text>
<text transform="translate(748.60,346.21) rotate(-90)" font-size="12">0.2</text>
<text transform="translate(781.97,346.21) rotate(-90)" font-size="12">0.1</text>
<text transform="translate(795.70,340.70) scale(0.9024,1)" font-size="12">P(X&gt;x)</text>
<text transform="translate(85.78,508.21) rotate(-90)" font-size="12">0.9</text>
<text transform="translate(119.15,508.21) rotate(-90)" font-size="12">0.8</text>
<text transform="translate(141.33,508.21) rotate(-90)" font-size="12">0.7</text>
<text transform="translate(159.52,508.21) rotate(-90)" font-size="12">0.6</text>
<text transform="translate(176.20,508.21) rotate(-90)" font-size="12">0.5</text>
<text transform="translate(192.88,508.21) rotate(-90)" font-size="12">0.4</text>
<text transform="translate(211.07,508.21) rotate(-90)" font-size="12">0.3</text>
<text transform="translate(233.25,508.21) rotate(-90)" font-size="12">0.2</text>
<text transform="translate(266.62,508.21) rotate(-90)" font-size="12">0.1</text>
<text transform="translate(281.80,500.50) scale(0.9024,1)" font-size="12">P(X&gt;x)</text>
<text transform="translate(343.48,508.21) rotate(-90)" font-size="12">0.9</text>
<text transform="translate(376.85,508.21) rotate(-90)" font-size="12">0.8</text>
<text transform="translate(399.03,508.21) rotate(-90)" font-size="12">0.7</text>
<text transform="translate(417.22,508.21) rotate(-90)" font-size="12">0.6</text>
<text transform="translate(433.90,508.21) rotate(-90)" font-size="12">0.5</text>
<text transform="translate(450.58,508.21) rotate(-90)" font-size="12">0.4</text>
<text transform="translate(468.77,508.21) rotate(-90)" font-size="12">0.3</text>
<text transform="translate(490.95,508.21) rotate(-90)" font-size="12">0.2</text>
<text transform="translate(524.32,508.21) rotate(-90)" font-size="12">0.1</text>
<text transform="translate(543.00,500.50) scale(0.9024,1)" font-size="12">P(X&gt;x)</text>
<text transform="translate(601.13,508.21) rotate(-90)" font-size="12">0.9</text>
<text transform="translate(634.50,508.21) rotate(-90)" font-size="12">0.8</text>
<text transform="translate(656.68,508.21) rotate(-90)" font-size="12">0.7</text>
<text transform="translate(674.87,508.21) rotate(-90)" font-size="12">0.6</text>
<text transform="translate(691.55,508.21) rotate(-90)" font-size="12">0.5</text>
<text transform="translate(708.23,508.21) rotate(-90)" font-size="12">0.4</text>
<text transform="translate(726.42,508.21) rotate(-90)" font-size="12">0.3</text>
<text transform="translate(748.60,508.21) rotate(-90)" font-size="12">0.2</text>
<text transform="translate(781.97,508.21) rotate(-90)" font-size="12">0.1</text>
<text transform="translate(795.70,500.50) scale(0.9024,1)" font-size="12">P(X&gt;x)</text>
<text transform="translate(85.78,670.21) rotate(-90)" font-size="12">0.9</text>
<text transform="translate(119.15,670.21) rotate(-90)" font-size="12">0.8</text>
<text transform="translate(141.33,670.21) rotate(-90)" font-size="12">0.7</text>
<text transform="translate(159.52,670.21) rotate(-90)" font-size="12">0.6</text>
<text transform="translate(176.20,670.21) rotate(-90)" font-size="12">0.5</text>
<text transform="translate(192.88,670.21) rotate(-90)" font-size="12">0.4</text>
<text transform="translate(211.07,670.21) rotate(-90)" font-size="12">0.3</text>
<text transform="translate(233.25,670.21) rotate(-90)" font-size="12">0.2</text>
<text transform="translate(266.62,670.21) rotate(-90)" font-size="12">0.1</text>
<text transform="translate(281.80,659.90) scale(0.9024,1)" font-size="12">P(X&gt;x)</text>
<text transform="translate(343.48,670.21) rotate(-90)" font-size="12">0.9</text>
<text transform="translate(376.85,670.21) rotate(-90)" font-size="12">0.8</text>
<text transform="translate(399.03,670.21) rotate(-90)" font-size="12">0.7</text>
<text transform="translate(417.22,670.21) rotate(-90)" font-size="12">0.6</text>
<text transform="translate(433.90,670.21) rotate(-90)" font-size="12">0.5</text>
<text transform="translate(450.58,670.21) rotate(-90)" font-size="12">0.4</text>
<text transform="translate(468.77,670.21) rotate(-90)" font-size="12">0.3</text>
<text transform="translate(490.95,670.21) rotate(-90)" font-size="12">0.2</text>
<text transform="translate(524.32,670.21) rotate(-90)" font-size="12">0.1</text>
<text transform="translate(543.00,659.90) scale(0.9024,1)" font-size="12">P(X&gt;x)</text>
<text transform="translate(601.13,670.21) rotate(-90)" font-size="12">0.9</text>
<text transform="translate(634.50,670.21) rotate(-90)" font-size="12">0.8</text>
<text transform="translate(656.68,670.21) rotate(-90)" font-size="12">0.7</text>
<text transform="translate(674.87,670.21) rotate(-90)" font-size="12">0.6</text>
<text transform="translate(691.55,670.21) rotate(-90)" font-size="12">0.5</text>
<text transform="translate(708.23,670.21) rotate(-90)" font-size="12">0.4</text>
<text transform="translate(726.42,670.21) rotate(-90)" font-size="12">0.3</text>
<text transform="translate(748.60,670.21) rotate(-90)" font-size="12">0.2</text>
<text transform="translate(781.97,670.21) rotate(-90)" font-size="12">0.1</text>
<text transform="translate(795.70,659.90) scale(0.9024,1)" font-size="12">P(X&gt;x)</text>
<text transform="translate(15.9,373.5) scale(1.06,1)" font-size="12" id="wm2">(W m<tspan font-size="9.5" dy="-5">-2</tspan><tspan dy="5">)</tspan></text>
</svg></body></html>
